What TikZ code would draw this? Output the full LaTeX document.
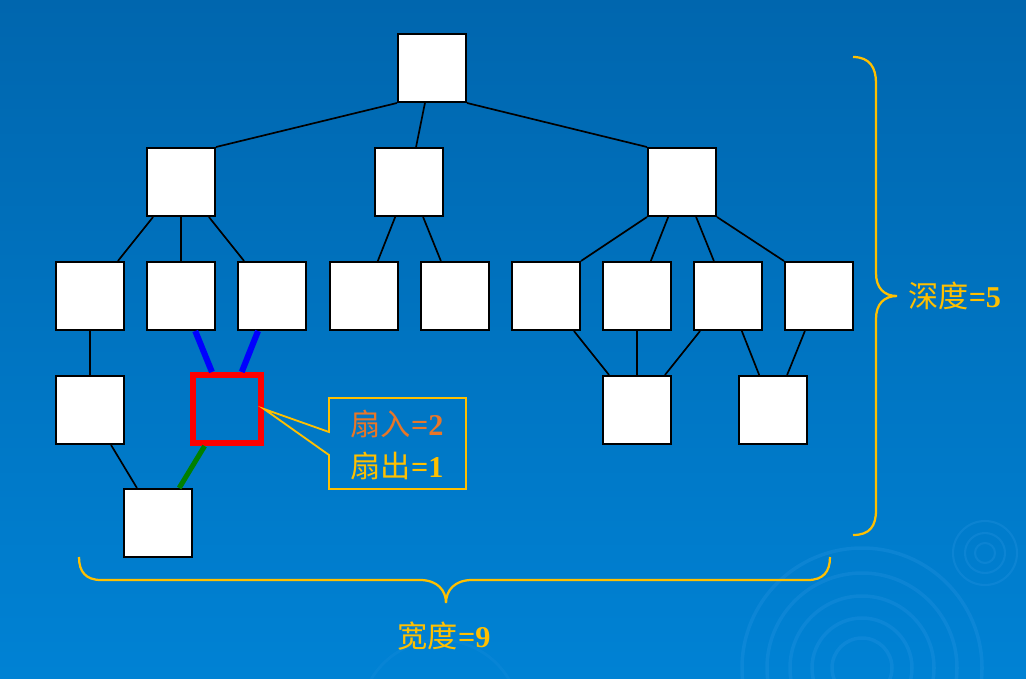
\documentclass[tikz,border=0pt]{standalone}
\usepackage{fontspec}
\setmainfont{Liberation Serif}
\newfontfamily\cjk{Noto Sans CJK SC}
\definecolor{bgtop}{RGB}{0,102,174}
\definecolor{bgmid}{RGB}{0,108,184}
\definecolor{bgbot}{RGB}{0,130,212}
\definecolor{gold}{RGB}{255,192,0}
\definecolor{fanin}{RGB}{232,118,40}
\definecolor{ripple}{RGB}{60,160,235}
\tikzset{
	box/.style={draw=black, fill=white, line width=1.4pt, minimum size=1.7cm, inner sep=0pt},
	link/.style={black, line width=1.2pt},
	lbl/.style={gold, inner sep=0pt, font=\fontsize{21.5}{25}\selectfont},
}
\begin{document}
\begin{tikzpicture}[x=0.025cm, y=-0.025cm]
	\useasboundingbox (0, 0) rectangle (1026, 678);
	\clip (0, 0) rectangle (1026, 678);
	\shade[top color=bgtop, middle color=bgmid, bottom color=bgbot] (0, 0) rectangle (1026, 678);
	% ripples
	\foreach \r in {30, 50, 72, 95, 120}
		\draw[ripple, opacity=.2, line width=2.5pt] (862, 668) circle (\r);
	\foreach \r in {10, 20, 32}
		\draw[ripple, opacity=.2, line width=1.5pt] (985, 553) circle (\r);
	\draw[ripple, opacity=.12, line width=2pt] (440, 720) circle (80);

	% level 0, 1
	\node[box] (r) at (432, 68) {};
	\node[box] (a1) at (181, 182) {};
	\node[box] (a2) at (409, 182) {};
	\node[box] (a3) at (682, 182) {};
	% level 2
	\node[box] (b1) at (90, 296) {};
	\node[box] (b2) at (181, 296) {};
	\node[box] (b3) at (272, 296) {};
	\node[box] (b4) at (364, 296) {};
	\node[box] (b5) at (455, 296) {};
	\node[box] (b6) at (546, 296) {};
	\node[box] (b7) at (637, 296) {};
	\node[box] (b8) at (728, 296) {};
	\node[box] (b9) at (819, 296) {};
	% level 3, 4
	\node[box] (c1) at (90, 410) {};
	\node[draw=red, line width=4.3pt, minimum size=1.7cm, inner sep=0pt] (fo) at (227, 409) {};
	\node[box] (c3) at (637, 410) {};
	\node[box] (c4) at (773, 410) {};
	\node[box] (d1) at (158, 523) {};

	\draw[link] (r.south west) -- (a1.north east);
	\draw[link] (r) -- (a2);
	\draw[link] (r.south east) -- (a3.north west);
	\draw[link] (a1) -- (b1);
	\draw[link] (a1) -- (b2);
	\draw[link] (a1) -- (b3);
	\draw[link] (a2) -- (b4);
	\draw[link] (a2) -- (b5);
	\draw[link] (a3.south west) -- (b6.north east);
	\draw[link] (a3) -- (b7);
	\draw[link] (a3) -- (b8);
	\draw[link] (a3.south east) -- (b9.north west);
	\draw[link] (b1) -- (c1);
	\draw[link] (c1) -- (d1);
	\draw[blue, line width=4.3pt] (b2) -- (fo);
	\draw[blue, line width=4.3pt] (b3) -- (fo);
	\draw[green!50!black, line width=3.6pt] (fo) -- (d1);
	\draw[link] (b6) -- (c3);
	\draw[link] (b7) -- (c3);
	\draw[link] (b8) -- (c3);
	\draw[link] (b8) -- (c4);
	\draw[link] (b9) -- (c4);

	% callout
	\draw[gold, line width=1.3pt] (329, 398) -- (329, 432) -- (fo.east) -- (329, 455)
		-- (329, 489) -- (466, 489) -- (466, 398) -- cycle;
	\node[lbl, text=fanin] (fi) at (397, 424) {{\cjk 扇入}\textbf{=2}};
	\node[lbl] (fout) at (397, 466) {{\cjk 扇出}\textbf{=1}};

	% braces
	\draw[gold, line width=1.6pt] (853, 57) .. controls (870, 57) and (876, 68) .. (876, 83) -- (876, 273)
		.. controls (876, 288) and (884, 296) .. (897, 296) .. controls (884, 296) and (876, 304) .. (876, 319)
		-- (876, 510) .. controls (876, 526) and (870, 535) .. (853, 535);
	\node[lbl, anchor=west] (depth) at (908, 296) {{\cjk 深度}\textbf{=5}};
	\draw[gold, line width=1.6pt] (79, 557) .. controls (79, 572) and (86, 580) .. (101, 580) -- (420, 580)
		.. controls (437, 580) and (446, 590) .. (446, 603) .. controls (446, 590) and (455, 580) .. (472, 580)
		-- (808, 580) .. controls (823, 580) and (830, 572) .. (830, 557);
	\node[lbl] (width) at (444, 636) {{\cjk 宽度}\textbf{=9}};
\end{tikzpicture}
\end{document}
